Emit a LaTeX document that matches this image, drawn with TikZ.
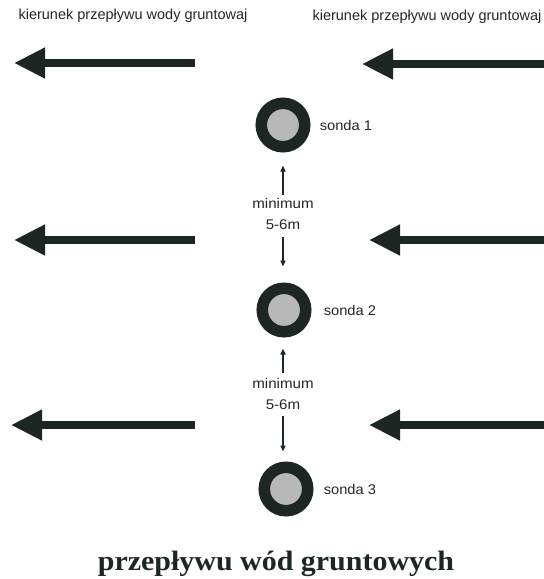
\documentclass[tikz,border=0pt]{standalone}
\usepackage{fontspec}
\setmainfont{Liberation Serif}
\setsansfont{Liberation Sans}
\usetikzlibrary{arrows.meta,positioning}
\definecolor{flowdark}{HTML}{1C2622}
\definecolor{probegray}{HTML}{B8B8B8}

\begin{document}
\begin{tikzpicture}[x=1pt,y=-1pt,
  flow/.style={-{Triangle[length=31pt,width=29pt]}, draw=flowdark, line width=7.5pt},
  probe/.style={circle, draw=flowdark, line width=11.5pt, fill=probegray, minimum size=43.5pt, inner sep=0pt},
  tag/.style={font=\sffamily\fontsize{14}{16}\selectfont, text=black!85, inner sep=1pt, xscale=1.05},
  dist/.style={font=\sffamily\fontsize{14}{16}\selectfont, text=black!85, inner sep=1pt, xscale=1.08},
  gap/.style={-{Triangle[length=6pt,width=5pt]}, draw=flowdark, line width=1.6pt},
  head/.style={font=\sffamily\fontsize{14.5}{16}\selectfont, text=black!85}
]
\useasboundingbox (0,0) rectangle (544,579);
% header labels
\node[head] (lefthead) at (133,16) {kierunek przepływu wody gruntowaj};
\node[head] (righthead) at (427,17) {kierunek przepływu wody gruntowaj};
% groundwater flow arrows
\coordinate (a1) at (195,63);  \coordinate (b1) at (14,63);
\coordinate (c1) at (560,64);  \coordinate (d1) at (362,64);
\coordinate (a2) at (195,240); \coordinate (b2) at (14,240);
\coordinate (c2) at (560,240); \coordinate (d2) at (369,240);
\coordinate (a3) at (195,425); \coordinate (b3) at (11,425);
\coordinate (c3) at (560,425); \coordinate (d3) at (369,425);
\foreach \i in {1,2,3} {
  \draw[flow] (a\i) -- (b\i);
  \draw[flow] (c\i) -- (d\i);
}
% probes
\node[probe] (sonda1) at (283,125) {};
\node[probe] (sonda2) at (284,310) {};
\node[probe] (sonda3) at (286,489) {};
\node[tag, right=8pt of sonda1] {sonda 1};
\node[tag, right=11pt of sonda2] {sonda 2};
\node[tag, right=9pt of sonda3] {sonda 3};
% spacing between probes
\node[dist] (min1) at (283,203) {minimum};
\node[dist] (len1) at (283,225) {5-6m};
\node[dist] (min2) at (283,383) {minimum};
\node[dist] (len2) at (283,405) {5-6m};
\draw[gap, shorten <=2pt, shorten >=13pt] (min1.north) -- (min1.north |- sonda1.south);
\draw[gap, shorten <=6pt, shorten >=16pt] (len1.south) -- (len1.south |- sonda2.north);
\draw[gap, shorten <=4pt, shorten >=11pt] (min2.north) -- (min2.north |- sonda2.south);
\draw[gap, shorten <=5pt, shorten >=10pt] (len2.south) -- (len2.south |- sonda3.north);
% caption
\node[font=\bfseries\fontsize{28}{32}\selectfont, text=flowdark, anchor=base, xscale=1.07] (caption) at (276,570) {przepływu wód gruntowych};
\end{tikzpicture}
\end{document}
